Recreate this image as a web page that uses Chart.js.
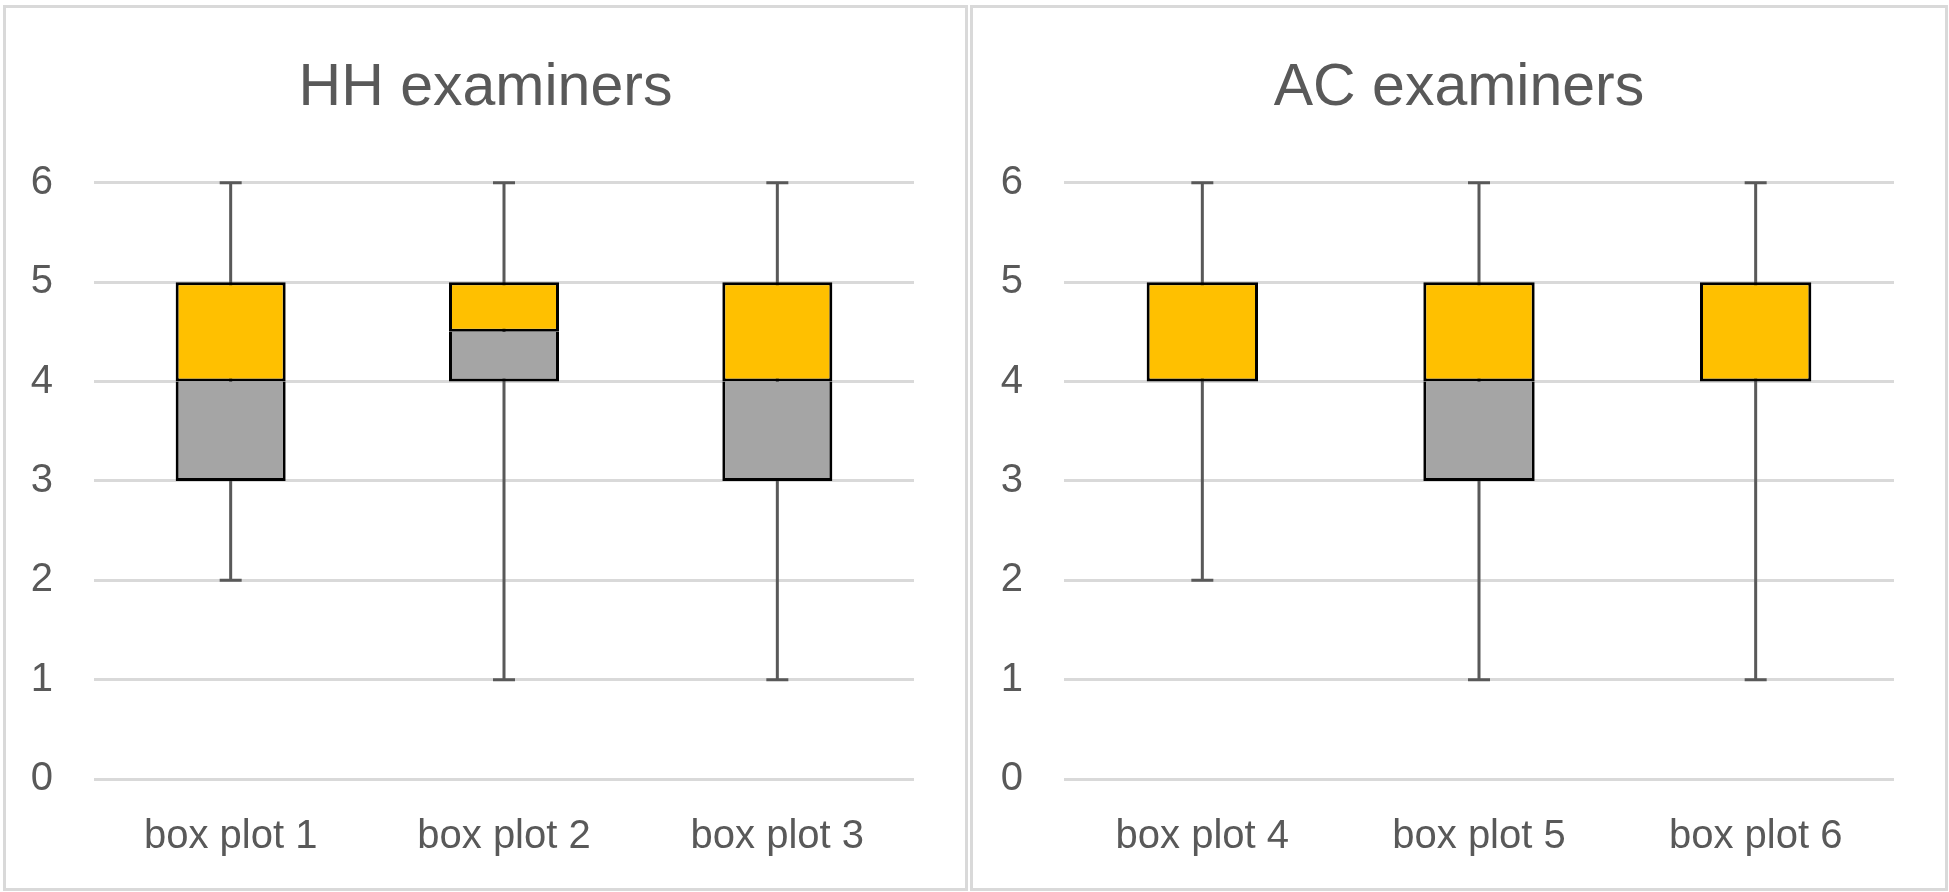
<!DOCTYPE html>
<html>
<head>
<meta charset="utf-8">
<script src="https://cdn.jsdelivr.net/npm/chart.js@4"></script>
<style>
  body { margin: 0; background: #fff; }
  .panel { position: absolute; top: 5px; height: 886px; box-sizing: border-box; border: 3px solid #d9d9d9; background: #fff; }
  #p1 { left: 3px; width: 965px; }
  #p2 { left: 970px; width: 978px; }
  canvas { display: block; }
</style>
</head>
<body>
<div class="panel" id="p1"><canvas id="chartHH"></canvas></div>
<div class="panel" id="p2"><canvas id="chartAC"></canvas></div>
<script>
// HH examiners
const hhLabels = ['box plot 1', 'box plot 2', 'box plot 3'];
const hhMin = [2, 1, 1];
const hhQ1 = [3, 4, 3];
const hhMedian = [4, 4.5, 4];
const hhQ3 = [5, 5, 5];
const hhMax = [6, 6, 6];

// AC examiners
const acLabels = ['box plot 4', 'box plot 5', 'box plot 6'];
const acMin = [2, 1, 1];
const acQ1 = [4, 3, 4];
const acMedian = [4, 4, 4];
const acQ3 = [5, 5, 5];
const acMax = [6, 6, 6];

// y axis
const yMin = 0;
const yMax = 6;
const yStep = 1;

const textColor = '#595959';
const fontFamily = '"Liberation Sans", Arial, sans-serif';

function makeChart(id, title, labels, mins, q1s, medians, q3s, maxs, yAxisWidth) {
  const canvas = document.getElementById(id);
  const box = canvas.parentElement;
  canvas.width = box.clientWidth;
  canvas.height = box.clientHeight;

  // whiskers drawn behind the boxes
  const whiskers = {
    id: 'whiskers',
    beforeDatasetsDraw(chart) {
      const ctx = chart.ctx;
      const x = chart.scales.x;
      const y = chart.scales.y;
      ctx.save();
      ctx.strokeStyle = '#595959';
      ctx.lineWidth = 3;
      for (let i = 0; i < labels.length; i++) {
        const cx = x.getPixelForValue(i);
        const top = y.getPixelForValue(maxs[i]);
        const bottom = y.getPixelForValue(mins[i]);
        ctx.beginPath();
        ctx.moveTo(cx, top);
        ctx.lineTo(cx, bottom);
        ctx.moveTo(cx - 11, top);
        ctx.lineTo(cx + 11, top);
        ctx.moveTo(cx - 11, bottom);
        ctx.lineTo(cx + 11, bottom);
        ctx.stroke();
      }
      ctx.restore();
    }
  };

  return new Chart(canvas, {
    type: 'bar',
    data: {
      labels: labels,
      datasets: [{
        label: 'lower',
        data: labels.map((_, i) => [q1s[i], medians[i]]),
        backgroundColor: '#a5a5a5',
        borderColor: '#000000',
        borderWidth: 3,
        borderSkipped: 'top',
        grouped: false,
        barPercentage: 0.4025,
        categoryPercentage: 1
      }, {
        label: 'upper',
        data: labels.map((_, i) => [medians[i], q3s[i]]),
        backgroundColor: '#ffc000',
        borderColor: '#000000',
        borderWidth: 3,
        borderSkipped: false,
        grouped: false,
        barPercentage: 0.4025,
        categoryPercentage: 1
      }]
    },
    options: {
      responsive: false,
      animation: false,
      layout: { padding: 0 },
      plugins: {
        legend: { display: false },
        tooltip: { enabled: false },
        title: {
          display: true,
          text: title,
          color: textColor,
          font: { family: fontFamily, size: 59, weight: 'normal' },
          padding: { top: 45, bottom: 59 }
        }
      },
      scales: {
        x: {
          grid: { display: false },
          border: { display: false },
          ticks: { color: textColor, font: { family: fontFamily, size: 40 }, padding: 26 },
          afterFit: s => { s.height = 109; }
        },
        y: {
          min: yMin,
          max: yMax,
          grid: { color: '#d9d9d9', lineWidth: 3, drawTicks: false },
          border: { display: false },
          ticks: { stepSize: yStep, color: textColor, font: { family: fontFamily, size: 40 }, padding: 41 },
          afterFit: s => { s.width = yAxisWidth; }
        },
        // empty right-hand margin, keeps the title centred on the whole panel
        margin: {
          type: 'linear',
          position: 'right',
          grid: { display: false },
          border: { display: false },
          ticks: { display: false },
          afterFit: s => { s.width = 51; }
        }
      }
    },
    plugins: [whiskers]
  });
}

makeChart('chartHH', 'HH examiners', hhLabels, hhMin, hhQ1, hhMedian, hhQ3, hhMax, 88);
makeChart('chartAC', 'AC examiners', acLabels, acMin, acQ1, acMedian, acQ3, acMax, 91);
</script>
</body>
</html>
